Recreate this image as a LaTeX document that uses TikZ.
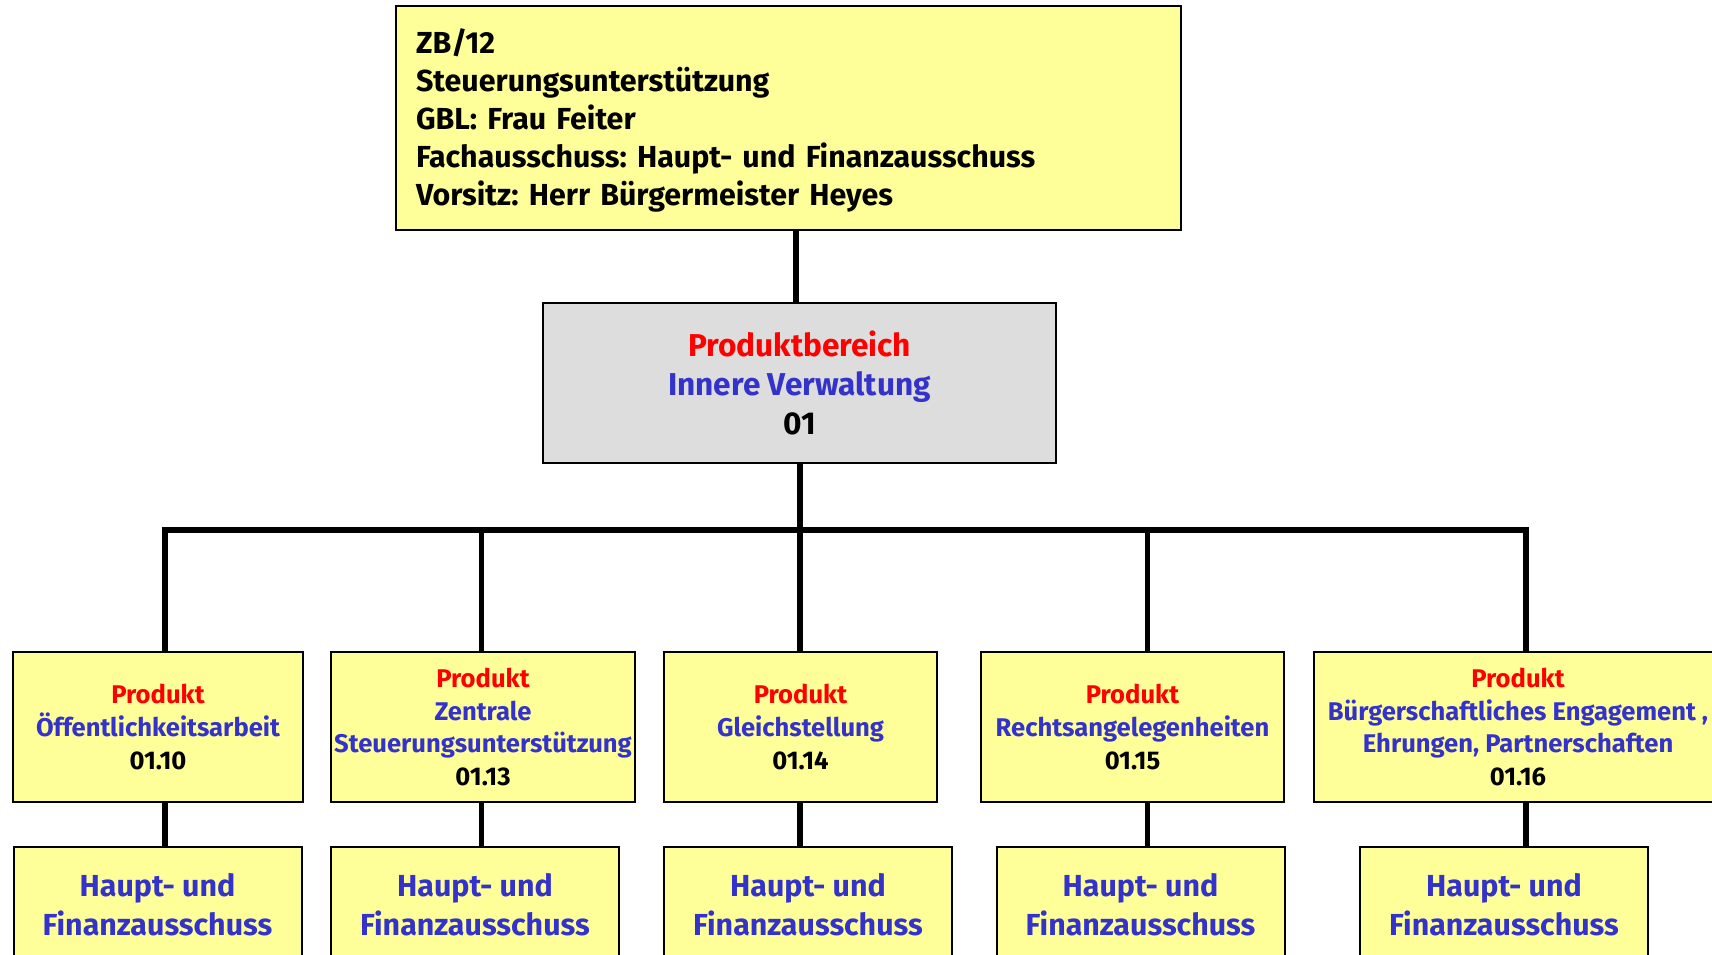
\documentclass[tikz,border=0pt]{standalone}
\usepackage{fontspec}
\setmainfont{Fira Sans}
\frenchspacing
\usetikzlibrary{calc}
\definecolor{boxyellow}{RGB}{255,255,153}
\definecolor{boxgrey}{RGB}{221,221,221}
\definecolor{prodblue}{RGB}{51,51,204}

\begin{document}
\begin{tikzpicture}[x=0.5pt, y=-0.5pt,
    box/.style={draw, line width=1pt, fill=boxyellow, inner sep=0pt},
    conn/.style={line width=2.8pt},
    prod/.style={box, minimum height=75pt, align=center, text=prodblue, font=\fontsize{12.8}{16.4}\selectfont\bfseries},
    ausschuss/.style={box, minimum width=144pt, minimum height=58pt, align=center, text=prodblue, font=\fontsize{15.2}{19.7}\selectfont\bfseries}]

        \clip (0,0) rectangle (1712,954);

        % ZB
        \node[box, minimum width=392.5pt, minimum height=111.75pt, text width=372.5pt, inner xsep=10pt, align=left,
              font=\fontsize{15.2}{19}\selectfont\bfseries] (zb) at (788.5,118)
            {\rule{0pt}{14.5pt}ZB/12\\Steuerungsunterstützung\\GBL: Frau Feiter\\Fachausschuss: Haupt- und Finanzausschuss\\Vorsitz: Herr Bürgermeister Heyes};

        % PRODUKTBEREICH
        \node[box, fill=boxgrey, minimum width=256.5pt, minimum height=80pt, align=center,
              font=\fontsize{15.8}{19.4}\selectfont\bfseries] (pb) at (799.5,383)
            {{\color{red}Produktbereich}\\{\color{prodblue}Innere Verwaltung}\\01};

        % PRODUKTE
        \node[prod, minimum width=145.25pt] (p1) at (158,727) {{\color{red}Produkt}\\Öffentlichkeitsarbeit\\{\color{black}01.10}};
        \node[prod, minimum width=152pt] (p2) at (483,727) {{\color{red}Produkt}\\Zentrale\\Steuerungsunterstützung\\{\color{black}01.13}};
        \node[prod, minimum width=136.5pt] (p3) at (800.5,727) {{\color{red}Produkt}\\Gleichstellung\\{\color{black}01.14}};
        \node[prod, minimum width=151.5pt] (p4) at (1132.5,727) {{\color{red}Produkt}\\Rechtsangelegenheiten\\{\color{black}01.15}};
        \node[prod, minimum width=204pt] (p5) at (1518,727) {{\color{red}Produkt}\\Bürgerschaftliches Engagement ,\\Ehrungen, Partnerschaften\\{\color{black}01.16}};

        % AUSSCHUESSE
        \node[ausschuss] (h1) at (157.5,905) {Haupt- und\\Finanzausschuss};
        \node[ausschuss] (h2) at (475,905) {Haupt- und\\Finanzausschuss};
        \node[ausschuss] (h3) at (808,905) {Haupt- und\\Finanzausschuss};
        \node[ausschuss] (h4) at (1140.5,905) {Haupt- und\\Finanzausschuss};
        \node[ausschuss] (h5) at (1504,905) {Haupt- und\\Finanzausschuss};

        % CONNECTORS
        \coordinate (c0) at (796,0);
        \coordinate (bus) at (800,530);
        \draw[conn] (c0 |- zb.south) -- (c0 |- pb.north);
        \draw[conn] (pb.south -| bus) -- (bus);
        \foreach \n/\x in {1/165, 2/481.5, 3/800, 4/1147.5, 5/1526} {
            \coordinate (d\n) at (\x,530);
            \draw[conn] (d\n) -- (d\n |- p\n.north);
            \draw[conn] (d\n |- p\n.south) -- (d\n |- h\n.north);
        }
        \draw[conn] (d1 |- p1.north) -- (d1) -- (d5) -- (d5 |- p5.north);

\end{tikzpicture}
\end{document}
